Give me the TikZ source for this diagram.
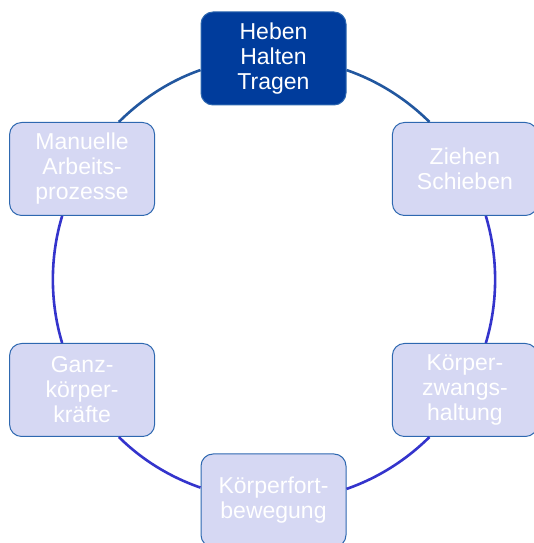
\documentclass[tikz,border=0pt]{standalone}
\usepackage{fontspec}
\setmainfont{Liberation Sans}
\usepackage{xcolor}
\definecolor{navy}{HTML}{003C9C}
\definecolor{lavender}{HTML}{D6D8F3}
\definecolor{frame}{HTML}{2E68B0}
\definecolor{steel}{HTML}{22579F}
\definecolor{violet}{HTML}{3434CC}

\begin{document}
\begin{tikzpicture}[
    x=1pt, y=1pt,
    task/.style={
        draw=frame,
        line width=1pt,
        rounded corners=12pt,
        minimum width=145pt,
        minimum height=93pt,
        inner sep=0pt,
        align=center,
        text=white,
        font=\fontsize{23}{25}\selectfont,
    },
    link/.style={line width=2.6pt, looseness=0.865},
]
\useasboundingbox (0,0) rectangle (533,543);

\node[task, fill=navy] (heben) at (273.5, 484.5) {Heben\\Halten\\Tragen};
\node[task, fill=lavender] (ziehen) at (464.9, 374) {Ziehen\\Schieben};
\node[task, fill=lavender] (zwang) at (464.9, 153) {Körper-\\zwangs-\\haltung};
\node[task, fill=lavender] (fort) at (273.5, 42.5) {Körperfort-\\bewegung};
\node[task, fill=lavender] (ganz) at (82.1, 153) {Ganz-\\körper-\\kräfte};
\node[task, fill=lavender] (manuell) at (82.1, 374) {Manuelle\\Arbeits-\\prozesse};

% ring, clockwise from the top
\draw[link, steel] (heben.-9.55) to[out=-19.15, in=135.3] (ziehen.127.7);
\draw[link, violet] (ziehen.-66.6) to[out=-73.2, in=73.2] (zwang.66.6);
\draw[link, violet] (zwang.-127.7) to[out=-135.3, in=19.15] (fort.9.55);
\draw[link, violet] (fort.170.45) to[out=160.85, in=-44.7] (ganz.-52.3);
\draw[link, violet] (ganz.113.4) to[out=106.8, in=-106.8] (manuell.-113.4);
\draw[link, steel] (manuell.52.3) to[out=44.7, in=199.15] (heben.189.55);

\end{tikzpicture}
\end{document}
